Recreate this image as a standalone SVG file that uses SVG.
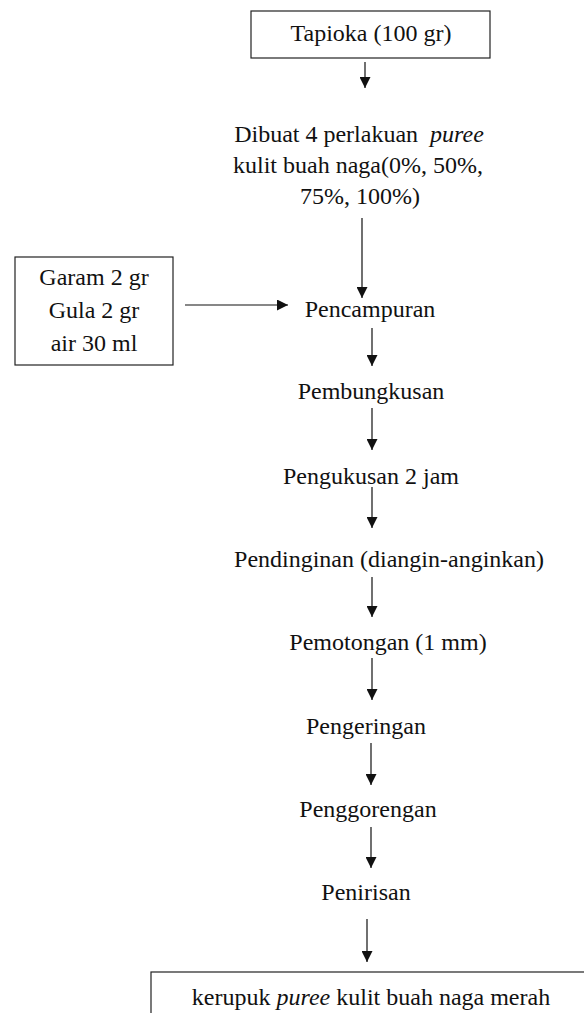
<svg xmlns="http://www.w3.org/2000/svg" width="584" height="1013" viewBox="0 0 584 1013">
<style>
text{font-family:'Liberation Serif','Times New Roman',Tinos,'DejaVu Serif',serif;font-size:24px;fill:#111;text-anchor:middle}
.box{fill:#fff;stroke:#222;stroke-width:1.2}
.con{stroke:#111;stroke-width:1.2;fill:none;marker-end:url(#ah)}
.it{font-style:italic}
</style>
<defs>
<marker id="ah" markerUnits="userSpaceOnUse" markerWidth="11" markerHeight="11" refX="11" refY="5.5" orient="auto">
<path d="M0,0 L11,5.5 L0,11 z" fill="#111"/>
</marker>
</defs>
<rect width="584" height="1013" fill="#fff"/>
<g id="connectors">
<line class="con" x1="365" y1="62" x2="365" y2="88"/>
<line class="con" x1="362" y1="218" x2="362" y2="298"/>
<line class="con" x1="185" y1="305" x2="288" y2="305"/>
<line class="con" x1="372" y1="328" x2="372" y2="366"/>
<line class="con" x1="372" y1="408" x2="372" y2="450"/>
<line class="con" x1="372" y1="487" x2="372" y2="528"/>
<line class="con" x1="372" y1="577" x2="372" y2="617"/>
<line class="con" x1="372" y1="658" x2="372" y2="700"/>
<line class="con" x1="371" y1="743" x2="371" y2="785"/>
<line class="con" x1="371" y1="827" x2="371" y2="868"/>
<line class="con" x1="367" y1="919" x2="367" y2="962"/>
</g>
<g id="tapioka">
<rect class="box" x="251" y="11" width="239" height="47"/>
<text x="371" y="41" font-family="Liberation Serif">Tapioka (100 gr)</text>
</g>
<g id="perlakuan">
<text x="359" y="142">Dibuat 4 perlakuan <tspan class="it" dx="6">puree</tspan></text>
<text x="358" y="173">kulit buah naga(0%, 50%,</text>
<text x="360" y="204">75%, 100%)</text>
</g>
<g id="bahan">
<rect class="box" x="15" y="257" width="158" height="108"/>
<text x="94" y="285">Garam 2 gr</text>
<text x="94" y="318">Gula 2 gr</text>
<text x="94" y="351">air 30 ml</text>
</g>
<g id="pencampuran"><text x="370" y="317">Pencampuran</text></g>
<g id="pembungkusan"><text x="371" y="399">Pembungkusan</text></g>
<g id="pengukusan"><text x="371" y="484">Pengukusan 2 jam</text></g>
<g id="pendinginan"><text x="389" y="567">Pendinginan (diangin-anginkan)</text></g>
<g id="pemotongan"><text x="388" y="650">Pemotongan (1 mm)</text></g>
<g id="pengeringan"><text x="366" y="734">Pengeringan</text></g>
<g id="penggorengan"><text x="368" y="817">Penggorengan</text></g>
<g id="penirisan"><text x="366" y="900">Penirisan</text></g>
<g id="kerupuk">
<rect class="box" x="151" y="972" width="450" height="60"/>
<text x="371" y="1005">kerupuk <tspan class="it">puree</tspan> kulit buah naga merah</text>
</g>
</svg>
